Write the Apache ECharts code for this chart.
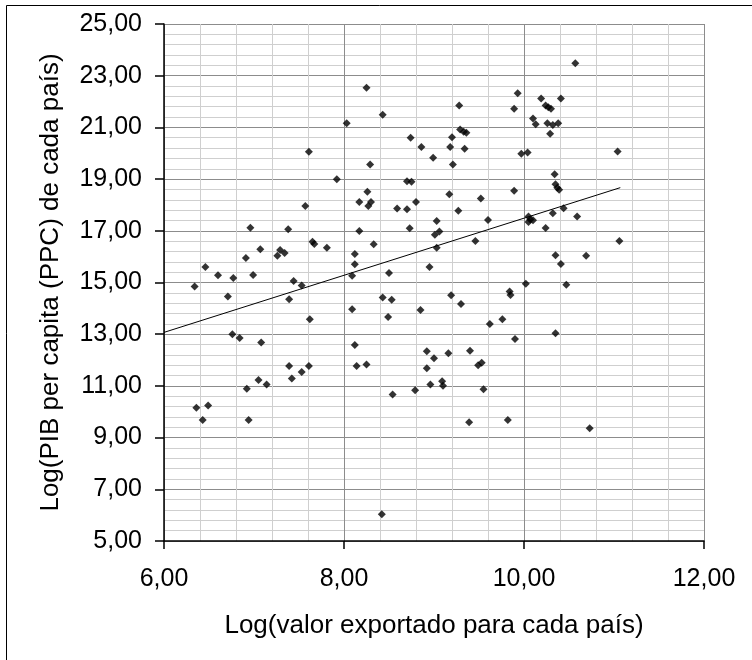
<!DOCTYPE html>
<html>
<head>
<meta charset="utf-8">
<script src="https://cdn.jsdelivr.net/npm/echarts@6/dist/echarts.min.js"></script>
<style>
html,body{margin:0;padding:0;background:#fff;}
#chart{width:752px;height:660px;}
</style>
</head>
<body>
<div id="chart"></div>
<script>
// Log(valor exportado) values
var xValues = [
  6.46,6.60,6.77,6.91,6.96,6.99,7.07,7.26,7.29,7.34,7.38,
  7.57,7.61,7.65,7.67,7.81,7.92,8.03,8.09,8.12,8.12,8.17,8.17,8.25,8.26,8.27,8.30,8.29,8.33,8.43,8.50,8.59,
  6.34,6.71,6.76,6.84,7.08,6.36,6.43,6.49,6.92,6.94,7.05,7.14,7.39,7.44,7.53,7.62,7.39,7.42,7.53,7.61,8.09,8.12,8.14,8.25,8.43,8.53,8.49,8.54,8.42,
  8.74,8.86,8.99,8.70,8.75,8.70,8.80,8.73,9.03,9.01,9.06,9.03,8.95,9.17,9.27,9.18,9.20,9.21,9.28,9.29,9.33,9.36,9.34,9.46,9.52,9.60,9.89,9.93,9.89,9.97,10.04,10.05,10.07,10.10,10.05,10.24,10.32,10.44,10.59,10.34,10.35,10.37,10.39,10.19,10.24,10.27,10.30,10.41,10.10,10.13,10.26,10.32,10.38,10.29,10.57,11.04,11.06,10.35,10.41,10.69,
  8.85,9.19,9.30,9.84,9.85,10.02,10.47,9.62,9.76,10.35,9.90,8.92,9.00,9.16,9.40,8.92,9.49,9.53,8.96,9.09,9.10,8.79,9.55,9.39,9.82,10.73
];
// Log(PIB per capita (PPC)) values
var yValues = [
  15.60,15.28,15.17,15.95,17.12,15.29,16.29,16.03,16.26,16.14,17.06,
  17.96,20.06,16.58,16.49,16.34,18.99,21.16,15.26,16.10,15.71,16.99,18.11,22.53,18.51,17.96,18.11,19.56,16.48,21.49,15.37,17.86,
  14.85,14.46,13.00,12.85,12.68,10.15,9.68,10.24,10.89,9.68,11.23,11.05,14.35,15.06,14.88,13.58,11.77,11.29,11.54,11.77,13.97,12.58,11.77,11.83,14.42,14.33,13.67,10.67,6.03,
  20.60,20.24,19.83,18.92,18.90,17.83,18.11,17.10,17.38,16.85,16.97,16.34,15.60,18.41,17.78,20.24,20.62,19.56,21.85,20.92,20.83,20.79,20.17,16.61,18.25,17.42,21.72,22.32,18.55,19.98,20.03,17.55,17.44,17.41,17.34,17.11,17.68,17.87,17.55,19.19,18.80,18.67,18.59,22.12,21.85,21.78,21.72,22.12,21.34,21.12,21.16,21.09,21.16,20.75,23.48,20.07,16.61,16.05,15.72,16.03,
  13.94,14.51,14.17,14.65,14.52,14.95,14.91,13.39,13.58,13.04,12.81,12.34,12.07,12.26,12.36,11.68,11.80,11.90,11.05,11.18,11.01,10.83,10.87,9.59,9.68,9.36
];
// Linear trend line end points
var trendX = [6.00, 11.07];
var trendY = [13.07, 18.67];

var xTitle = 'Log(valor exportado para cada país)';
var yTitle = 'Log(PIB per capita (PPC) de cada país)';

var points = xValues.map(function(x, i){ return [x, yValues[i]]; });
var trend = trendX.map(function(x, i){ return [x, trendY[i]]; });

function fmt(v){ return v.toFixed(2).replace('.', ','); }
var FONT = 'Liberation Sans, Arial, sans-serif';

var chart = echarts.init(document.getElementById('chart'), null, {renderer:'canvas'});
chart.setOption({
  animation: false,
  backgroundColor: '#ffffff',
  grid: {left: 164, top: 24, width: 540, height: 517, containLabel: false},
  xAxis: {
    type: 'value', min: 6, max: 12, interval: 2,
    name: xTitle, nameLocation: 'middle', nameGap: 72,
    nameTextStyle: {fontFamily: FONT, fontSize: 26, color: '#000'},
    axisLine: {show: true, onZero: false, lineStyle: {color: '#000', width: 1.5}},
    axisTick: {show: true, inside: false, length: 8, lineStyle: {color: '#000', width: 1.5}},
    axisLabel: {formatter: fmt, fontFamily: FONT, fontSize: 25, color: '#000', margin: 26},
    splitLine: {show: true, lineStyle: {color: '#8c8c8c', width: 1}},
    minorTick: {show: false, splitNumber: 5},
    minorSplitLine: {show: true, lineStyle: {color: '#cfcfcf', width: 1}}
  },
  yAxis: {
    type: 'value', min: 5, max: 25, interval: 2,
    name: yTitle, nameLocation: 'middle', nameGap: 100, nameRotate: 90,
    nameTextStyle: {fontFamily: FONT, fontSize: 26, color: '#000'},
    axisLine: {show: true, onZero: false, lineStyle: {color: '#000', width: 1.5}},
    axisTick: {show: true, inside: false, length: 9, lineStyle: {color: '#000', width: 1.5}},
    axisLabel: {formatter: fmt, fontFamily: FONT, fontSize: 25, color: '#000', margin: 22},
    splitLine: {show: true, lineStyle: {color: '#8c8c8c', width: 1}},
    minorTick: {show: false, splitNumber: 5},
    minorSplitLine: {show: true, lineStyle: {color: '#cfcfcf', width: 1}}
  },
  graphic: [{
    type: 'rect', silent: true, z: 100,
    shape: {x: 6.5, y: 5.5, width: 900, height: 900},
    style: {fill: 'none', stroke: '#000', lineWidth: 1}
  }],
  series: [
    {
      type: 'line', data: trend, symbol: 'none', z: 3,
      lineStyle: {color: '#000', width: 1}
    },
    {
      type: 'scatter', data: points, symbol: 'diamond', symbolSize: 8, z: 4,
      itemStyle: {color: '#000'}
    }
  ]
});
</script>
</body>
</html>
